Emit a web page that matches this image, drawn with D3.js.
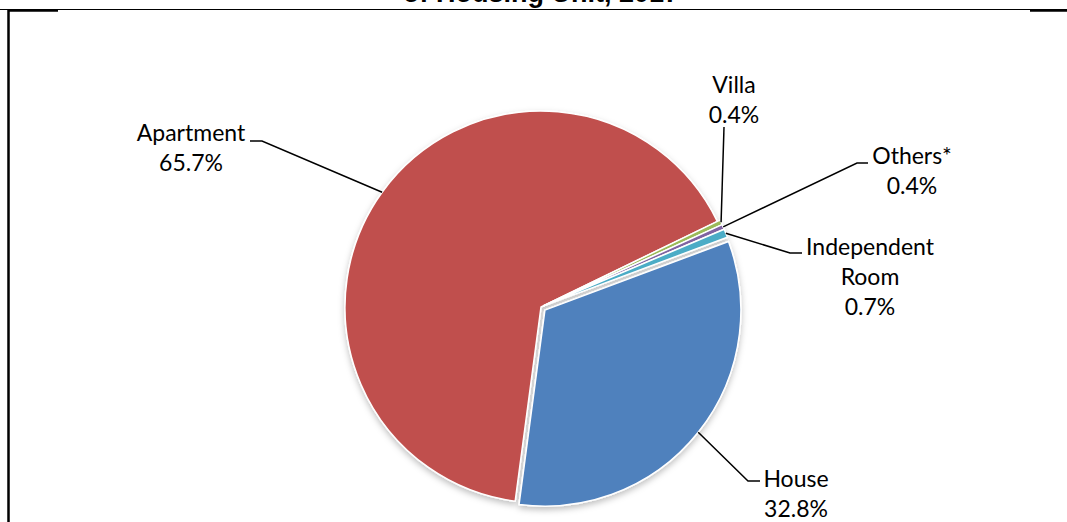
<!DOCTYPE html>
<html>
<head>
<meta charset="utf-8">
<script src="https://cdn.jsdelivr.net/npm/d3@7"></script>
<style>
  body { margin: 0; background: #fff; }
  svg { display: block; }
</style>
</head>
<body>
<svg id="chart" width="1067" height="522"></svg>
<script>
// data, in Excel series order (clockwise from the start angle)
const categories = ["House", "Apartment", "Villa", "Others*", "Independent Room"];
const shares = [32.8, 65.7, 0.4, 0.4, 0.7];
const shareLabels = ["32.8%", "65.7%", "0.4%", "0.4%", "0.7%"];
const sliceColors = ["#4F81BD", "#C0504D", "#9BBB59", "#8064A2", "#4BACC6"];
const titleText = "of Housing Unit, 2017";

const W = 1067, H = 522;
const cx = 541, cy = 307, R = 196;
const startDeg = 69.5;

// label placement: text lines, anchor and leader elbow points
const labelLayout = {
    "House":            { lines: ["House"], x: 796, y: 487, elbow: [[748, 481], [760, 481]] },
    "Apartment":        { lines: ["Apartment"], x: 191, y: 141, elbow: [[262, 141], [250, 141]] },
    "Villa":            { lines: ["Villa"], x: 734, y: 93, elbow: [[724, 127]] },
    "Others*":          { lines: ["Others*"], x: 912, y: 164, elbow: [[857, 163], [868, 163]] },
    "Independent Room": { lines: ["Independent", "Room"], x: 870, y: 255, elbow: [[790, 253], [802, 253]] }
};
const explode = { "House": 5, "Villa": 3, "Others*": 3, "Independent Room": 3 };

const svg = d3.select("#chart");

// soft shadow like the Excel pie
svg.append("defs")
    .append("filter")
    .attr("id", "shadow")
    .attr("x", "-20%").attr("y", "-20%")
    .attr("width", "140%").attr("height", "140%")
    .append("feDropShadow")
    .attr("dx", 0).attr("dy", 3)
    .attr("stdDeviation", 3)
    .attr("flood-color", "#000")
    .attr("flood-opacity", 0.25);

// frame pieces and title
svg.append("line")
    .attr("x1", 0).attr("x2", W).attr("y1", 9.5).attr("y2", 9.5)
    .attr("stroke", "#000").attr("stroke-width", 1);
svg.append("path")
    .attr("d", `M58,10.5H8.5V${H}`)
    .attr("fill", "none").attr("stroke", "#000").attr("stroke-width", 2.5);
svg.append("line")
    .attr("x1", 1030).attr("x2", W).attr("y1", 10.5).attr("y2", 10.5)
    .attr("stroke", "#000").attr("stroke-width", 2.5);

svg.append("text")
    .attr("x", 541).attr("y", 2)
    .attr("text-anchor", "middle")
    .attr("font-family", "'Liberation Sans', Arial, sans-serif")
    .attr("font-weight", "bold")
    .attr("font-size", 27)
    .text(titleText);

const data = categories.map((c, i) => ({ name: c, value: shares[i], label: shareLabels[i], color: sliceColors[i] }));

const pie = d3.pie()
    .sort(null)
    .value(d => d.value)
    .startAngle(startDeg * Math.PI / 180)
    .endAngle(startDeg * Math.PI / 180 + 2 * Math.PI);

const arc = d3.arc().innerRadius(0).outerRadius(R);
const arcs = pie(data);

const offset = (d, k) => {
    let a = (d.startAngle + d.endAngle) / 2;
    return [Math.sin(a) * k, -Math.cos(a) * k];
};

const g = svg.append("g").attr("transform", `translate(${cx},${cy})`);

g.append("g")
    .attr("filter", "url(#shadow)")
    .selectAll("path")
    .data(arcs)
    .enter()
    .append("path")
    .attr("transform", d => {
        let [dx, dy] = offset(d, explode[d.data.name] || 0);
        return `translate(${dx},${dy})`;
    })
    .attr("d", arc)
    .attr("fill", d => d.data.color)
    .attr("stroke", "#fff")
    .attr("stroke-width", 1.5)
    .attr("stroke-linejoin", "round");

// leader lines and labels
const fontFamily = "Lato, 'Open Sans', sans-serif";
const lineGap = 30;

arcs.forEach(d => {
    let lay = labelLayout[d.data.name];
    let a = (d.startAngle + d.endAngle) / 2;
    let [ox, oy] = offset(d, explode[d.data.name] || 0);
    let p0 = [cx + ox + Math.sin(a) * R, cy + oy - Math.cos(a) * R];
    let pts = [p0].concat(lay.elbow);

    svg.append("path")
        .attr("d", d3.line()(pts))
        .attr("fill", "none")
        .attr("stroke", "#000")
        .attr("stroke-width", 1.5);

    let lines = lay.lines.concat([d.data.label]);
    svg.append("text")
        .attr("text-anchor", "middle")
        .attr("font-family", fontFamily)
        .attr("font-size", 23)
        .attr("fill", "#000")
        .selectAll("tspan")
        .data(lines)
        .enter()
        .append("tspan")
        .attr("x", lay.x)
        .attr("y", (t, i) => lay.y + i * lineGap)
        .text(t => t);
});
</script>
</body>
</html>
